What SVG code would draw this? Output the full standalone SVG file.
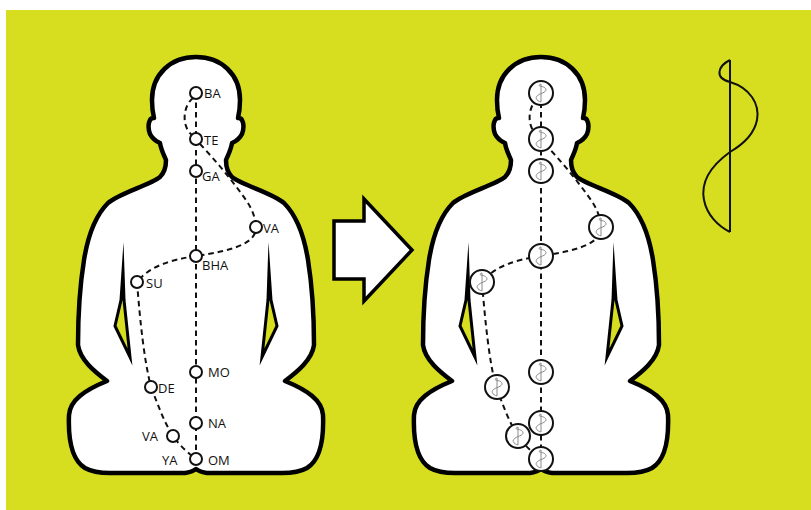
<svg xmlns="http://www.w3.org/2000/svg" xmlns:xlink="http://www.w3.org/1999/xlink" width="811" height="510" viewBox="0 0 811 510">
  <style>
    .body { fill: #ffffff; stroke: #000; stroke-width: 4.5; stroke-linejoin: round; }
    .sliver { fill: #d6de1f; stroke: #000; stroke-width: 3; stroke-linejoin: miter; stroke-miterlimit: 20; }
    .dash { fill: none; stroke: #111; stroke-width: 2; stroke-dasharray: 5.5 4; }
    .pt { fill: #fff; stroke: #111; stroke-width: 2; }
    .pt-big { fill: #fff; stroke: #111; stroke-width: 2; }
    .lbl { font-family: "Open Sans", "Liberation Sans", sans-serif; font-size: 13px; fill: #111; }
    .wave { fill: none; stroke: #111; stroke-width: 2; }
    .glyph { fill: none; stroke: #8a8a8a; stroke-width: 1; }
    .arrow { fill: #fff; stroke: #000; stroke-width: 3.5; stroke-linejoin: miter; }
  </style>
  <defs>
    <!-- seated figure silhouette, centred on x=196 -->
    <g id="figure">
      <path class="body" d="M196,57 C171,57 152,74 152,100 C152,108 153,114 154,118 C149,117 147,126 150,134 C153,140 158,142 160,143 C161,150 164,155 166,160 C166,168 163,174 160,177 C150,185 120,193 108,203 C96,215 88,235 84,260 C80,285 78,320 78,345 C80,360 95,372 107,381 C85,390 70,400 69,415 C68,440 72,460 85,468 C92,472 100,473 110,473 L185,473 Q192,472 196,469 Q200,472 207,473 L282,473 C292,473 300,472 307,468 C320,460 324,440 323,415 C322,400 307,390 285,381 C297,372 312,360 314,345 C314,320 312,285 308,260 C304,235 296,215 284,203 C272,193 242,185 232,177 C229,174 226,168 226,160 C228,155 231,150 232,143 C234,142 239,140 242,134 C245,126 243,117 238,118 C239,114 240,108 240,100 C240,74 221,57 196,57 Z"/>
      <polygon class="sliver" points="123,271 124,300 130,357 115,326 121,300"/>
      <polygon class="sliver" points="269,271 268,300 262,357 277,326 271,300"/>
    </g>
    <!-- small wave sign drawn inside the points, centred on 0,0 -->
    <g id="glyph" class="glyph">
      <path d="M0,-9 V9"/>
      <path d="M0,-9 C-2.2,-8.4 -2.9,-7.1 0,-6.7 C3.6,-6.1 5.4,-4.4 4.9,-2.7 C4.4,-1.2 2.1,-0.1 0,0.6 C-3.3,2 -5.4,3.6 -4.7,5.7 C-4.1,7.2 -2.1,8.4 0,9"/>
    </g>
  </defs>

  <!-- backdrop -->
  <rect x="0" y="0" width="811" height="510" fill="#ffffff"/>
  <rect x="6" y="10" width="805" height="500" fill="#d6de1f"/>

  <g id="figure-left"><use xlink:href="#figure"/></g>
  <g id="figure-right"><use xlink:href="#figure" transform="translate(345,0)"/></g>

  <!-- transformation arrow -->
  <g id="arrow">
    <polygon class="arrow" points="334,221 364,221 364,199 412,250 364,301 364,279 334,279"/>
  </g>

  <!-- wave sign -->
  <g id="wave" class="wave">
    <path d="M730,60 V232"/>
    <path d="M730,60 C718,66 714,78 730,82 C750,88 760,104 757,120 C754,135 742,145 730,152 C712,165 700,180 704,200 C707,215 718,226 730,232"/>
  </g>

  <!-- dashed paths between the points -->
  <g id="connectors">
    <g id="paths-left">
      <path class="dash" d="M196,93 V459"/>
      <path class="dash" d="M193,98 C183,106 181,126 192,135"/>
      <path class="dash" d="M200,144 C215,160 232,180 246,200 C252,209 255,216 256,227"/>
      <path class="dash" d="M255,233 C250,245 230,251 196,256"/>
      <path class="dash" d="M196,256 C170,260 150,266 137,282"/>
      <path class="dash" d="M137,282 C140,320 144,360 151,387"/>
      <path class="dash" d="M151,387 C158,405 164,422 173,436 C180,446 188,453 196,459"/>
    </g>
    <g id="paths-right" transform="translate(345,0)">
      <path class="dash" d="M196,93 V459"/>
      <path class="dash" d="M193,98 C183,106 181,126 192,135"/>
      <path class="dash" d="M200,144 C215,160 232,180 246,200 C252,209 255,216 256,227"/>
      <path class="dash" d="M255,233 C250,245 230,251 196,256"/>
      <path class="dash" d="M196,256 C170,260 150,266 137,282"/>
      <path class="dash" d="M137,282 C140,320 144,360 151,387"/>
      <path class="dash" d="M151,387 C158,405 164,422 173,436 C180,446 188,453 196,459"/>
    </g>
  </g>

  <!-- labelled points, left figure -->
  <g id="node-ba"><circle class="pt" cx="196" cy="93" r="6"/><text class="lbl" x="204" y="98">BA</text></g>
  <g id="node-te"><circle class="pt" cx="196" cy="139" r="6"/><text class="lbl" x="204" y="145">TE</text></g>
  <g id="node-ga"><circle class="pt" cx="196" cy="171" r="6"/><text class="lbl" x="202" y="181">GA</text></g>
  <g id="node-va-upper"><circle class="pt" cx="256" cy="227" r="6"/><text class="lbl" x="263" y="233">VA</text></g>
  <g id="node-bha"><circle class="pt" cx="196" cy="256" r="6"/><text class="lbl" x="202" y="270">BHA</text></g>
  <g id="node-su"><circle class="pt" cx="137" cy="282" r="6"/><text class="lbl" x="146" y="288">SU</text></g>
  <g id="node-mo"><circle class="pt" cx="196" cy="372" r="6"/><text class="lbl" x="208" y="377">MO</text></g>
  <g id="node-de"><circle class="pt" cx="151" cy="387" r="6"/><text class="lbl" x="158" y="393">DE</text></g>
  <g id="node-na"><circle class="pt" cx="196" cy="423" r="6"/><text class="lbl" x="208" y="428">NA</text></g>
  <g id="node-va-lower"><circle class="pt" cx="173" cy="436" r="6"/><text class="lbl" x="142" y="441">VA</text></g>
  <g id="node-om"><circle class="pt" cx="196" cy="459" r="6"/><text class="lbl" x="162" y="465">YA</text><text class="lbl" x="208" y="465">OM</text></g>

  <!-- points carrying the wave sign, right figure -->
  <g id="node-ba-2"><circle class="pt-big" cx="541" cy="93" r="12"/><use xlink:href="#glyph" x="541" y="93"/></g>
  <g id="node-te-2"><circle class="pt-big" cx="541" cy="139" r="12"/><use xlink:href="#glyph" x="541" y="139"/></g>
  <g id="node-ga-2"><circle class="pt-big" cx="541" cy="171" r="12"/><use xlink:href="#glyph" x="541" y="171"/></g>
  <g id="node-va-upper-2"><circle class="pt-big" cx="601" cy="227" r="12"/><use xlink:href="#glyph" x="601" y="227"/></g>
  <g id="node-bha-2"><circle class="pt-big" cx="541" cy="256" r="12"/><use xlink:href="#glyph" x="541" y="256"/></g>
  <g id="node-su-2"><circle class="pt-big" cx="482" cy="282" r="12"/><use xlink:href="#glyph" x="482" y="282"/></g>
  <g id="node-mo-2"><circle class="pt-big" cx="541" cy="372" r="12"/><use xlink:href="#glyph" x="541" y="372"/></g>
  <g id="node-de-2"><circle class="pt-big" cx="497" cy="387" r="12"/><use xlink:href="#glyph" x="497" y="387"/></g>
  <g id="node-na-2"><circle class="pt-big" cx="541" cy="423" r="12"/><use xlink:href="#glyph" x="541" y="423"/></g>
  <g id="node-va-lower-2"><circle class="pt-big" cx="518" cy="436" r="12"/><use xlink:href="#glyph" x="518" y="436"/></g>
  <g id="node-om-2"><circle class="pt-big" cx="541" cy="459" r="12"/><use xlink:href="#glyph" x="541" y="459"/></g>
</svg>
